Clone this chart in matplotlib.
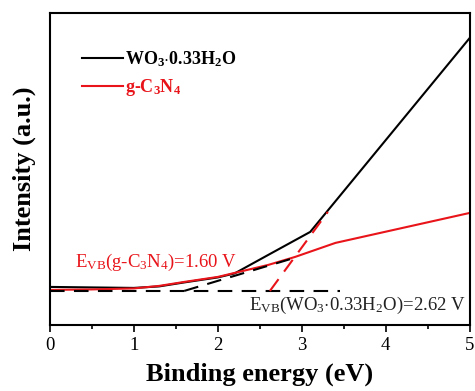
import numpy as np
import matplotlib
matplotlib.use('Agg')
import matplotlib.pyplot as plt
from matplotlib.ticker import MultipleLocator

plt.rcParams.update({
    'font.family': 'serif',
    'font.serif': ['Liberation Serif', 'DejaVu Serif'],
    'mathtext.fontset': 'custom',
    'mathtext.rm': 'Liberation Serif',
    'mathtext.it': 'Liberation Serif:italic',
    'mathtext.bf': 'Liberation Serif:bold',
})

# intensity in arbitrary units (0 = bottom of axes)
energy = [0, 0.5, 1.0, 1.3, 1.6, 2.0, 2.2, 2.6, 3.1, 5.0]
wo3 = [38, 37.5, 37, 38.5, 42.5, 47.5, 51.5, 70, 93, 287]
gcn_e = [0, 0.5, 1.0, 1.3, 1.6, 2.0, 2.2, 2.6, 2.92, 3.4, 5.0]
gcn = [35, 35.5, 36.5, 39, 43, 48, 52, 60, 68, 82, 112]

base_x = [0, 3.45]
base_y = [34, 34]
tan_gcn_x = [1.60, 2.95]
tan_gcn_y = [34, 68]
tan_wo3_x = [2.62, 3.31]
tan_wo3_y = [34, 113]

red = '#e8141a'

fig = plt.figure(figsize=(4.75, 3.91), dpi=100)
ax = fig.add_axes([0.105, 0.169, 0.884, 0.798])

ax.plot(energy, wo3, color='black', lw=1.5, label=r'WO$_\mathbf{3}$$\cdot$0.33H$_\mathbf{2}$O')
ax.plot(gcn_e, gcn, color=red, lw=1.5, label=r'g-C$_\mathbf{3}$N$_\mathbf{4}$')
ax.plot(base_x, base_y, color='black', lw=1.5, dashes=(7, 4.5))
ax.plot(tan_gcn_x, tan_gcn_y, color='black', lw=1.5, dashes=(7, 4.5))
ax.plot(tan_wo3_x, tan_wo3_y, color=red, lw=1.5, dashes=(7, 4.5))

ax.text(0.3, 62, r'E$_\mathrm{VB}$(g-C$_3$N$_4$)=1.60 V', color=red,
        fontsize=13.5, ha='left', va='center')
ax.text(4.95, 19, r'E$_\mathrm{VB}$(WO$_3$$\cdot$0.33H$_2$O)=2.62 V', color='#222222',
        fontsize=13.5, ha='right', va='center')

ax.set_xlim(0, 5)
ax.set_ylim(0, 312)
ax.xaxis.set_major_locator(MultipleLocator(1))
ax.xaxis.set_minor_locator(MultipleLocator(0.5))
ax.tick_params(axis='x', which='both', direction='out', labelsize=13.5, width=1.2, pad=4)
ax.tick_params(axis='x', which='major', length=5)
ax.tick_params(axis='x', which='minor', length=3)
ax.set_yticks([])
for s in ax.spines.values():
    s.set_linewidth(1.5)

ax.set_xlabel('Binding energy (eV)', fontsize=19, fontweight='bold', labelpad=6)
ax.set_ylabel('Intensity (a.u.)', fontsize=19, fontweight='bold', labelpad=10)

leg = ax.legend(loc='upper left', bbox_to_anchor=(0.037, 0.935), frameon=False,
                prop={'weight': 'bold', 'size': 13}, handlelength=2.3,
                handletextpad=0.1, labelspacing=0.45)
for t, c in zip(leg.get_texts(), ['black', red]):
    t.set_color(c)

fig.savefig('out.png', dpi=100)
